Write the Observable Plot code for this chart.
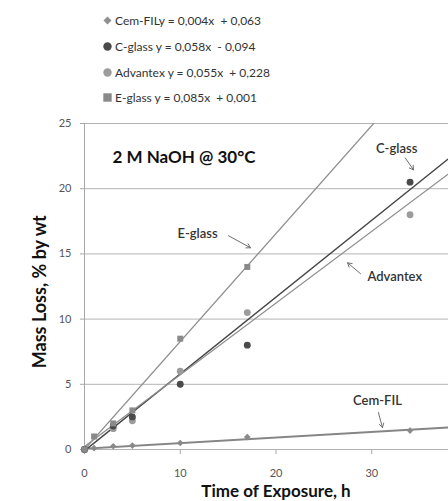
<!DOCTYPE html>
<html><head><meta charset="utf-8">
<script src="https://cdn.jsdelivr.net/npm/d3@7"></script>
<script src="https://cdn.jsdelivr.net/npm/@observablehq/plot@0.6"></script>
<style>
html,body{margin:0;padding:0;background:#fff;overflow:hidden;width:448px;height:501px;}
#legend{position:relative;height:110px;font-family:Lato,"Open Sans",sans-serif;font-size:12px;color:#333;}
.li{position:absolute;left:103px;height:14px;display:flex;align-items:center;white-space:pre;}
.li svg{margin-right:3px;}
#chart{width:448px;overflow:hidden;}
#chart svg{display:block;max-width:none !important;}
</style></head>
<body>
<div id="legend"></div>
<div id="chart"></div>
<script>
// ---- data ----
const series = ["Cem-FIL", "C-glass", "Advantex", "E-glass"];
const legendNames = ["Cem-FIL", "C-glass ", "Advantex ", "E-glass "];
const equations = ["y = 0,004x  + 0,063", "y = 0,058x  - 0,094", "y = 0,055x  + 0,228", "y = 0,085x  + 0,001"];
const cemfilX = [0, 1, 3, 5, 10, 17, 34];
const cemfilY = [0, 0.1, 0.25, 0.3, 0.5, 0.95, 1.45];
const cglassX = [0, 3, 5, 10, 17, 34];
const cglassY = [0, 1.8, 2.5, 5, 8, 20.5];
const advantexX = [0, 3, 5, 10, 17, 34];
const advantexY = [0, 1.6, 2.2, 6, 10.5, 18];
const eglassX = [0, 1, 3, 5, 10, 17];
const eglassY = [0, 1, 2, 3, 8.5, 14];
// trend lines as drawn (slope per hour, intercept)
const trendSlope = [0.043, 0.589, 0.55, 0.828];
const trendIntercept = [0.063, -0.094, 0.228, 0.001];
const xTicks = [0, 10, 20, 30];
const yTicks = [0, 5, 10, 15, 20, 25];
const annLabels = ["C-glass", "E-glass", "Advantex", "Cem-FIL"];
const annX = [32.6, 11.8, 32.4, 30.6];
const annY = [23.05, 16.54, 13.25, 3.75];
const arrowX1 = [33.5, 15.04, 28.83, 30.7];
const arrowY1 = [22.36, 16.39, 13.48, 2.83];
const arrowX2 = [34.36, 17.34, 27.47, 31.12];
const arrowY2 = [21.44, 15.47, 14.32, 1.68];
const titleText = "2 M NaOH @ 30°C";

// ---- styles ----
const colors = {"Cem-FIL": "#8a8a8a", "C-glass": "#4a4a4a", "Advantex": "#9c9c9c", "E-glass": "#8a8a8a"};
const lineColors = {"Cem-FIL": "#858585", "C-glass": "#474747", "Advantex": "#8f8f8f", "E-glass": "#8f8f8f"};
const lineWidths = {"Cem-FIL": 2, "C-glass": 1.5, "Advantex": 1.3, "E-glass": 1.3};
const symbols = {"Cem-FIL": "diamond2", "C-glass": "circle", "Advantex": "circle", "E-glass": "square"};
const sizes = {"Cem-FIL": 3.8, "C-glass": 5, "Advantex": 5, "E-glass": 4.8};

const pts = (name, xs, ys) => xs.map((x, i) => ({series: name, x, y: ys[i]}));
const points = [
  ...pts("E-glass", eglassX, eglassY),
  ...pts("Advantex", advantexX, advantexY),
  ...pts("C-glass", cglassX, cglassY),
  ...pts("Cem-FIL", cemfilX, cemfilY)
];
const xDomain = [0, 40];
const trends = series.flatMap((s, i) => xDomain.map(x => ({series: s, x, y: trendSlope[i] * x + trendIntercept[i]})));
const anns = annLabels.map((t, i) => ({t, x: annX[i], y: annY[i], x1: arrowX1[i], y1: arrowY1[i], x2: arrowX2[i], y2: arrowY2[i]}));

// ---- legend ----
const legendMarks = {
  "Cem-FIL": '<svg width="9" height="9"><path d="M4.5 0.5L8.5 4.5L4.5 8.5L0.5 4.5Z" fill="#8f8f8f"/></svg>',
  "C-glass": '<svg width="9" height="9"><circle cx="4.5" cy="4.5" r="4.2" fill="#4a4a4a"/></svg>',
  "Advantex": '<svg width="9" height="9"><circle cx="4.5" cy="4.5" r="4.2" fill="#9c9c9c"/></svg>',
  "E-glass": '<svg width="9" height="9"><rect x="0.3" y="0.3" width="8.4" height="8.4" fill="#8a8a8a"/></svg>'
};
const legendTop = [13, 39, 65, 90];
const lg = document.getElementById("legend");
series.forEach((s, i) => {
  const d = document.createElement("div");
  d.className = "li";
  d.style.top = legendTop[i] + "px";
  d.innerHTML = legendMarks[s] + "<span>" + legendNames[i] + equations[i] + "</span>";
  lg.appendChild(d);
});

// ---- chart ----
const chart = Plot.plot({
  width: 470, height: 391,
  marginLeft: 84, marginRight: 3, marginTop: 13, marginBottom: 52,
  style: {fontFamily: "Lato, 'Open Sans', sans-serif", fontSize: "11px", color: "#555", background: "transparent"},
  x: {domain: xDomain, ticks: xTicks},
  y: {domain: [0, 25], ticks: yTicks},
  marks: [
    Plot.gridY(yTicks, {stroke: "#b4b4b4", strokeOpacity: 1, strokeWidth: 1}),
    Plot.ruleX([0], {stroke: "#a8a8a8", strokeWidth: 1}),
    Plot.axisY(yTicks, {tickSize: 4, tickPadding: 9, stroke: "#a8a8a8", fill: "#555", label: null}),
    Plot.axisX(xTicks, {tickSize: 5, tickPadding: 15, stroke: "#a8a8a8", fill: "#555", label: null}),
    Plot.line(trends, {x: "x", y: "y", z: "series", stroke: d => lineColors[d.series], strokeWidth: d => lineWidths[d.series], clip: true}),
    Plot.dot(points, {x: "x", y: "y", symbol: d => symbols[d.series], r: d => sizes[d.series], fill: d => colors[d.series], stroke: "none"}),
    Plot.arrow(anns, {x1: "x1", y1: "y1", x2: "x2", y2: "y2", stroke: "#707070", strokeWidth: 1, headLength: 7, bend: 0}),
    Plot.text(anns, {x: "x", y: "y", text: "t", fill: "#333", fontSize: 13, fontWeight: 600}),
    Plot.text([titleText], {x: [2.92], y: [22.36], text: d => d, textAnchor: "start", fill: "#111", fontSize: 17, fontWeight: 700}),
    Plot.text(["Time of Exposure, h"], {frameAnchor: "bottom", dy: 47, text: d => d, fill: "#111", fontSize: 17, fontWeight: 700}),
    Plot.text(["Mass Loss, % by wt"], {x: [-4.6], y: [12.1], rotate: -90, text: d => d, fill: "#111", fontSize: 18, fontWeight: 700, clip: false})
  ]
});
document.getElementById("chart").appendChild(chart);
</script>
</body></html>
